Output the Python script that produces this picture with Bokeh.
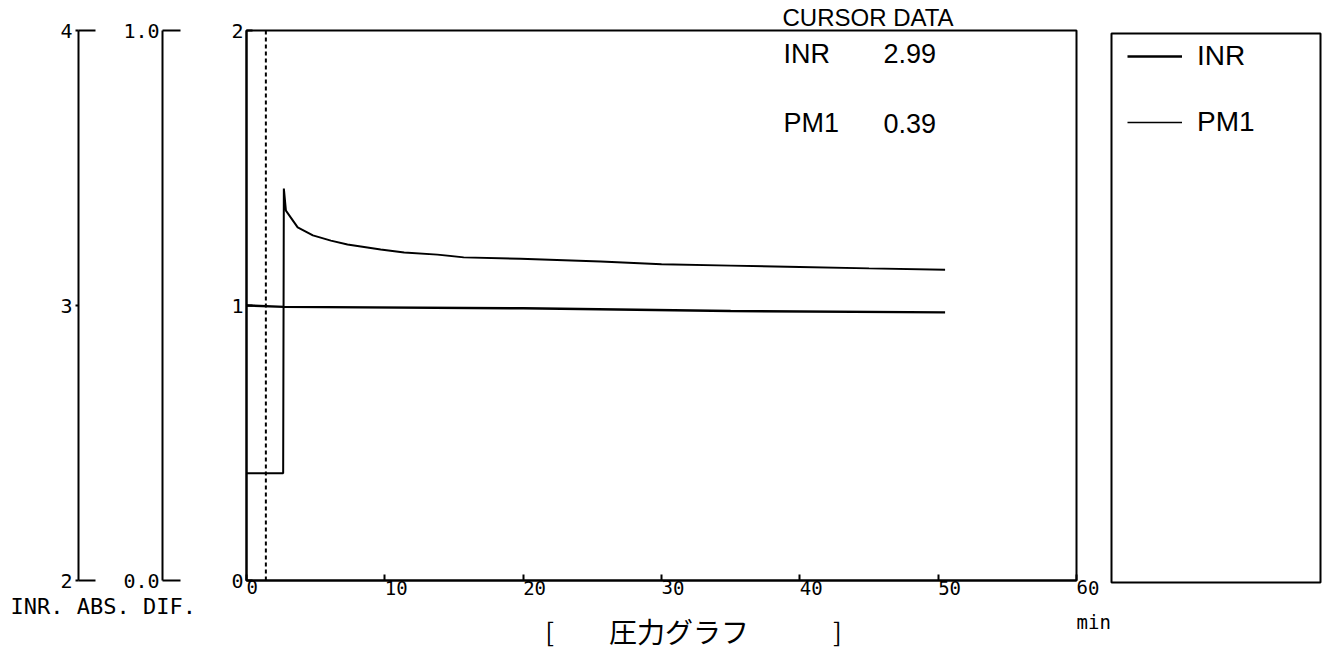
from bokeh.plotting import figure
from bokeh.layouts import row, column
from bokeh.models import (Range1d, LinearAxis, FixedTicker, Span, Label, Legend,
                          LegendItem, PrintfTickFormatter)
from bokeh.embed import file_html
from bokeh.resources import INLINE

# ---- data ----
time_pm1 = [0, 2.65, 2.7, 2.85, 3.7, 4.8, 6.1, 7.3, 9.7, 11.4, 13.8, 15.7, 19.8, 25.6, 30, 35, 40, 45, 50.5]
pm1 = [0.39, 0.39, 1.425, 1.345, 1.284, 1.255, 1.236, 1.222, 1.204, 1.193, 1.185, 1.175, 1.17, 1.16, 1.15, 1.145, 1.14, 1.135, 1.13]
time_inr = [0, 2.7, 20, 35, 50.5]
inr = [3.0, 2.995, 2.99, 2.98, 2.975]

x_ticks = [0, 10, 20, 30, 40, 50, 60]
dif_ticks = [0, 1, 2]
inr_ticks = [2, 3, 4]
abs_ticks = [0.0, 1.0]
cursor_time = 1.4
cursor_names = ["INR", "PM1"]
cursor_values = ["2.99", "0.39"]
axis_names = "INR. ABS. DIF."
x_unit = "min"
chart_title = "圧力グラフ"
cursor_title = "CURSOR DATA"

MONO = "DejaVu Sans Mono"
SANS = "Liberation Sans"
CJK = "Noto Sans CJK JP"

# ---- page geometry (pixels) ----
W, H = 1327, 651
COL_A = 228            # left column width (side axes)
FR_L, FR_R, FR_T, FR_B = 246, 1076, 30, 580   # main plot box
H1 = 610               # height of the main row
MAIN_W = 1104 - COL_A
LEG_W = W - COL_A - MAIN_W
AX_H = 593
NAN = float("nan")

def style_axis(ax, size="20px"):
    ax.axis_line_color = "black"
    ax.axis_line_width = 2
    ax.major_tick_line_color = "black"
    ax.major_tick_line_width = 2
    ax.minor_tick_line_color = "black"
    ax.minor_tick_line_width = 2
    ax.major_label_text_font = MONO
    ax.major_label_text_font_size = size
    ax.major_label_text_color = "black"

def blank(fig):
    fig.xgrid.visible = False
    fig.ygrid.visible = False
    fig.background_fill_color = "white"
    fig.border_fill_color = "white"
    if fig.title is not None and not fig.title.text:
        fig.title.visible = False

# ---------- side axes (INR, ABS) ----------
p_axes = figure(width=COL_A, height=AX_H, x_range=Range1d(0, 1), y_range=Range1d(0, 1),
                output_backend="svg", toolbar_location=None, x_axis_location=None,
                min_border_left=162, min_border_right=0, min_border_top=FR_T,
                min_border_bottom=AX_H - FR_B)
blank(p_axes)
p_axes.outline_line_color = None
p_axes.extra_y_ranges = {"inr": Range1d(2, 4)}
abs_axis = p_axes.yaxis[0]
style_axis(abs_axis)
abs_axis.ticker = FixedTicker(ticks=abs_ticks, minor_ticks=abs_ticks)
abs_axis.formatter = PrintfTickFormatter(format="%.1f")
abs_axis.major_tick_in = 0
abs_axis.major_tick_out = 0
abs_axis.minor_tick_in = 18
abs_axis.minor_tick_out = 0
abs_axis.major_label_standoff = 3
abs_axis.axis_label = " "
abs_axis.axis_label_standoff = 28
abs_axis.axis_label_text_font_size = "10px"

inr_axis = LinearAxis(y_range_name="inr",
                      ticker=FixedTicker(ticks=inr_ticks, minor_ticks=[inr_ticks[0], inr_ticks[-1]]))
style_axis(inr_axis)
inr_axis.major_tick_in = 0
inr_axis.major_tick_out = 3
inr_axis.minor_tick_in = 17
inr_axis.minor_tick_out = 0
inr_axis.major_label_standoff = 3
p_axes.add_layout(inr_axis, "left")

# ---------- text under side axes ----------
HT = H - AX_H
p_text = figure(width=COL_A, height=HT, x_range=Range1d(0, COL_A), y_range=Range1d(0, HT),
                output_backend="svg", toolbar_location=None, x_axis_location=None,
                y_axis_location=None, min_border=0)
blank(p_text)
p_text.outline_line_color = None
p_text.add_layout(Label(x=10, y=H - 606, text=axis_names, text_font=MONO,
                        text_font_size="22px", text_color="black", text_baseline="alphabetic"))

# ---------- main plot ----------
p = figure(width=MAIN_W, height=H1, x_range=Range1d(0, 60), y_range=Range1d(0, 2),
           output_backend="svg", toolbar_location=None, title=cursor_title,
           min_border_left=FR_L - COL_A, min_border_right=COL_A + MAIN_W - FR_R,
           min_border_top=FR_T, min_border_bottom=H1 - FR_B)
blank(p)
p.outline_line_color = "black"
p.outline_line_width = 2
p.extra_y_ranges = {"inr": Range1d(2, 4)}
p.title.align = "left"
p.title.offset = 536
p.title.standoff = 0
p.title.text_font = SANS
p.title.text_font_size = "24px"
p.title.text_font_style = "normal"
p.title.text_color = "black"

xa = p.xaxis[0]
style_axis(xa, "19px")
xa.ticker = FixedTicker(ticks=x_ticks)
xa.major_tick_in = 6
xa.major_tick_out = 0
xa.minor_tick_in = 0
xa.minor_tick_out = 0
xa.major_label_standoff = 7
xa.major_label_orientation = -0.0001

ya = p.yaxis[0]
style_axis(ya)
ya.ticker = FixedTicker(ticks=dif_ticks)
ya.major_tick_in = 6
ya.major_tick_out = 0
ya.minor_tick_in = 0
ya.minor_tick_out = 0
ya.major_label_standoff = 3

p.line(time_inr, inr, y_range_name="inr", line_color="black", line_width=2.5)
p.line(time_pm1, pm1, line_color="black", line_width=2)
p.add_layout(Span(location=cursor_time, dimension="height", line_color="black",
                  line_width=2, line_dash="4 3"))

for i, (nm, vl) in enumerate(zip(cursor_names, cursor_values)):
    yy = [1.916, 1.662][i]
    p.add_layout(Label(x=38.82, y=yy, text=nm, text_font=SANS, text_font_size="27px",
                       text_color="black", text_baseline="alphabetic"))
    p.add_layout(Label(x=46.05, y=yy, text=vl, text_font=SANS, text_font_size="27px",
                       text_color="black", text_baseline="alphabetic"))

# ---------- legend box ----------
p_leg = figure(width=LEG_W, height=H1, x_range=Range1d(0, 1), y_range=Range1d(0, 1),
               output_backend="svg", toolbar_location=None, x_axis_location=None,
               y_axis_location=None, min_border_left=1111 - (COL_A + MAIN_W),
               min_border_right=W - 1320, min_border_top=33, min_border_bottom=H1 - 582)
blank(p_leg)
p_leg.outline_line_color = "black"
p_leg.outline_line_width = 2
sw_inr = p_leg.line([NAN], [NAN], line_color="black", line_width=2.5)
sw_pm1 = p_leg.line([NAN], [NAN], line_color="black", line_width=1.5)
legend = Legend(items=[LegendItem(label=cursor_names[0], renderers=[sw_inr]),
                       LegendItem(label=cursor_names[1], renderers=[sw_pm1])],
                location=(16, 444), glyph_width=55, glyph_height=32, label_height=32,
                label_standoff=15, spacing=34, padding=5, margin=0,
                border_line_color=None, background_fill_alpha=0,
                label_text_font=SANS, label_text_font_size="28px", label_text_color="black")
p_leg.add_layout(legend, "center")

# ---------- bottom strip (unit + title) ----------
k = (FR_R - FR_L) / 60.0
HB = H - H1
p_bot = figure(width=W - COL_A, height=HB,
               x_range=Range1d((COL_A - FR_L) / k, (W - FR_L) / k), y_range=Range1d(0, HB),
               output_backend="svg", toolbar_location=None, x_axis_location=None,
               y_axis_location=None, min_border=0)
blank(p_bot)
p_bot.outline_line_color = None
p_bot.add_layout(Label(x=x_ticks[-1], y=H - 621, text=x_unit, text_font=MONO,
                       text_font_size="19px", text_color="black", text_baseline="alphabetic"))
p_bot.add_layout(Label(x=21.6, y=H - 630, text="[", text_font=CJK,
                       text_font_size="26px", text_color="black", text_baseline="alphabetic"))
p_bot.add_layout(Label(x=26.2, y=H - 630, text=chart_title, text_font=CJK,
                       text_font_size="28px", text_color="black", text_baseline="alphabetic"))
p_bot.add_layout(Label(x=42.4, y=H - 630, text="]", text_font=CJK,
                       text_font_size="26px", text_color="black", text_baseline="alphabetic"))

layout = row(column(p_axes, row(p_text)), column(row(p, column(p_leg)), p_bot))
open("out.html", "w").write(file_html(layout, INLINE))
